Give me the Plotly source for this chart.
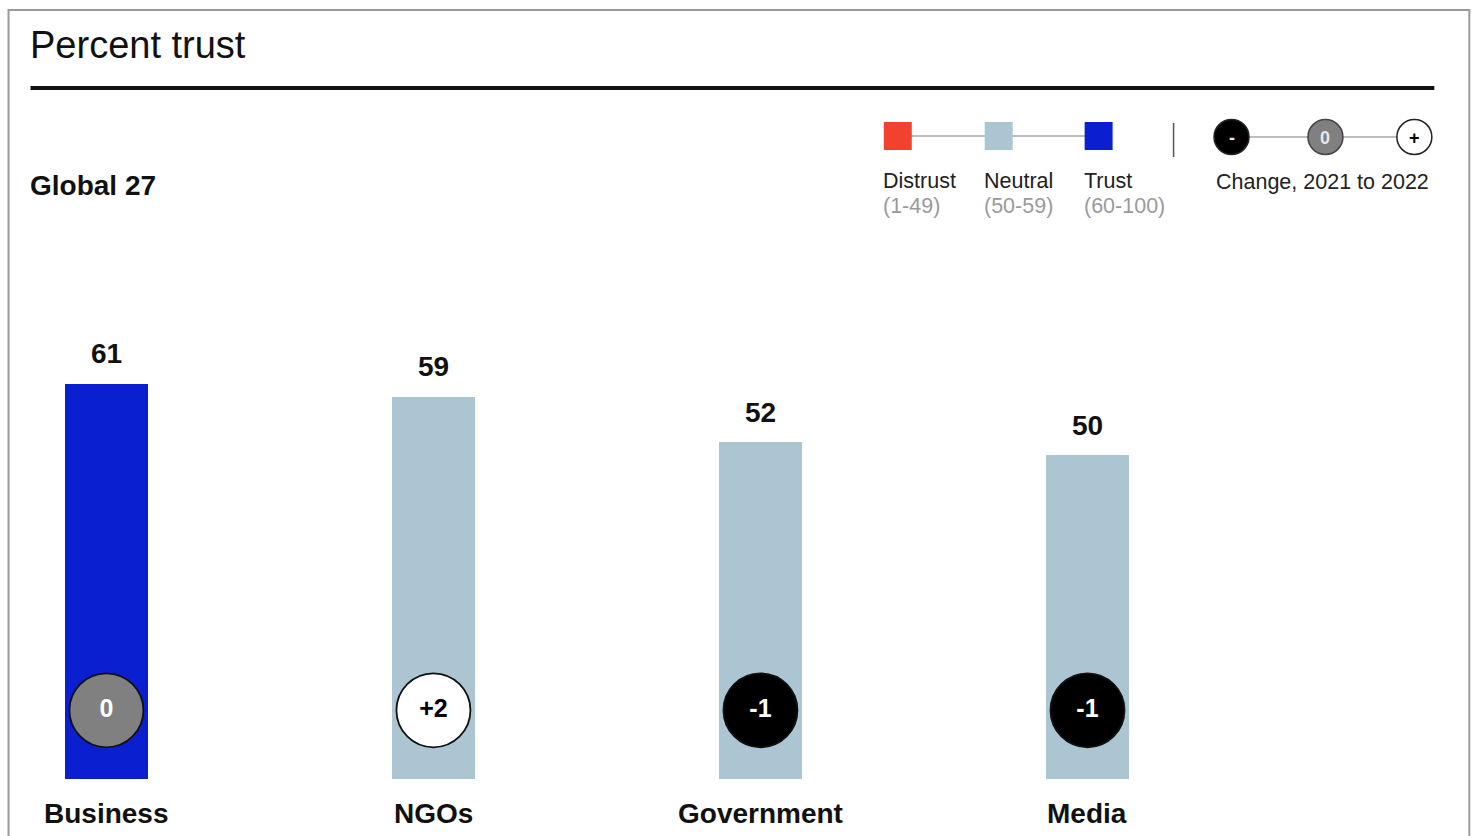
import plotly.graph_objects as go

# ---------------- data ----------------
categories = ["Business", "NGOs", "Government", "Media"]
trust_pct = [61, 59, 52, 50]
change_2021_2022 = [0, 2, -1, -1]

title_text = "Percent trust"
subtitle_text = "Global 27"
legend_labels = ["Distrust", "Neutral", "Trust"]
legend_ranges = ["(1-49)", "(50-59)", "(60-100)"]
change_label = "Change, 2021 to 2022"

# ---------------- styles ----------------
FONT = "Liberation Sans, Arial, Helvetica, sans-serif"
C_DISTRUST = "#f2412f"
C_NEUTRAL = "#abc6d2"
C_TRUST = "#0a1fcf"
C_NEG = "#000000"
C_ZERO = "#808080"
C_POS = "#ffffff"
TXT = "#111111"
GRAY_TXT = "#9a9a9a"

W, H = 1477, 836
L, R, T, B = 40.5, 225.5, 131, 57
PW, PH = W - L - R, H - T - B


def px(p):
    return (p - L) / PW


def py(p):
    return (H - B - p) / PH


def bar_color(v):
    if v >= 60:
        return C_TRUST
    if v >= 50:
        return C_NEUTRAL
    return C_DISTRUST


def chg_fill(c):
    return C_NEG if c < 0 else (C_ZERO if c == 0 else C_POS)


def chg_text(c):
    return f"+{c}" if c > 0 else str(c)


fig = go.Figure()

fig.add_trace(go.Bar(
    x=categories, y=trust_pct, width=0.254,
    marker=dict(color=[bar_color(v) for v in trust_pct], line=dict(width=0)),
    hoverinfo="x+y", showlegend=False,
))

CIRCLE_Y = 10.6
fig.add_trace(go.Scatter(
    x=categories, y=[CIRCLE_Y] * len(categories), mode="markers+text",
    marker=dict(size=74, color=[chg_fill(c) for c in change_2021_2022],
                line=dict(color="#111111", width=1.8), opacity=1),
    text=[f"<b>{chg_text(c)}</b>" for c in change_2021_2022],
    textposition="middle center",
    textfont=dict(family=FONT, size=25,
                  color=["#000000" if c > 0 else "#ffffff" for c in change_2021_2022]),
    hoverinfo="skip", showlegend=False, cliponaxis=False,
))

annotations = []
for cat, v in zip(categories, trust_pct):
    annotations.append(dict(x=cat, y=v, xref="x", yref="y", text=f"<b>{v}</b>",
                            showarrow=False, yanchor="middle", yshift=30,
                            font=dict(family=FONT, size=28, color=TXT)))
    annotations.append(dict(x=cat, y=0, xref="x", yref="y", text=f"<b>{cat}</b>",
                            showarrow=False, yanchor="middle", yshift=-34,
                            font=dict(family=FONT, size=28, color=TXT)))


def ann(xp, yp, text, size, color=TXT, xanchor="left"):
    annotations.append(dict(x=px(xp), y=py(yp), xref="paper", yref="paper", text=text,
                            showarrow=False, xanchor=xanchor, yanchor="middle",
                            font=dict(family=FONT, size=size, color=color)))


ann(27, 45, title_text, 38)
ann(27, 185, f"<b>{subtitle_text}</b>", 28)

shapes = []


def rect(x0, y0, x1, y1, fill, line_color=None, lw=0):
    shapes.append(dict(type="rect", xref="paper", yref="paper",
                       x0=px(x0), x1=px(x1), y0=py(y1), y1=py(y0),
                       fillcolor=fill, line=dict(color=line_color or fill, width=lw)))


def line(x0, y0, x1, y1, color, width):
    shapes.append(dict(type="line", xref="paper", yref="paper",
                       x0=px(x0), x1=px(x1), y0=py(y0), y1=py(y1),
                       line=dict(color=color, width=width)))


def circle(cx, cy, r, fill, line_color, lw):
    shapes.append(dict(type="circle", xref="paper", yref="paper",
                       x0=px(cx - r), x1=px(cx + r), y0=py(cy + r), y1=py(cy - r),
                       fillcolor=fill, line=dict(color=line_color, width=lw)))


# outer frame
shapes.append(dict(type="rect", xref="paper", yref="paper",
                   x0=px(8), x1=px(1470), y0=py(900), y1=py(10),
                   fillcolor="rgba(0,0,0,0)", line=dict(color="#9a9a9a", width=2)))
# title rule
line(30, 88, 1435, 88, "#111111", 4)

# legend: colour scale
sq_x = [884, 985, 1085]
sq_colors = [C_DISTRUST, C_NEUTRAL, C_TRUST]
line(sq_x[0] + 14, 136, sq_x[-1] + 14, 136, "#bdbdbd", 2)
for x0, col, lab, rng in zip(sq_x, sq_colors, legend_labels, legend_ranges):
    rect(x0, 122, x0 + 28, 150, col)
    ann(x0 - 3, 181, lab, 21.5, "#222222")
    ann(x0 - 3, 206, rng, 21.5, GRAY_TXT)

# divider
line(1174, 123, 1174, 157, "#555555", 1.5)

# legend: change circles
cc_x = [1232, 1326, 1415]
cc_vals = [-1, 0, 1]
cc_sym = ["-", "0", "+"]
line(cc_x[0], 137, cc_x[-1], 137, "#bdbdbd", 2)
for cx, c, s in zip(cc_x, cc_vals, cc_sym):
    circle(cx, 137, 17.5, chg_fill(c), "#222222" if c != 0 else "#444444", 1.5)
    ann(cx, 138, f"<b>{s}</b>", 18, "#000000" if c > 0 else "#e8e8e8", xanchor="center")
ann(1214, 182, change_label, 21.5, "#222222")

fig.update_layout(
    width=W, height=H, autosize=False,
    margin=dict(l=L, r=R, t=T, b=B, pad=0),
    paper_bgcolor="white", plot_bgcolor="white",
    xaxis=dict(range=[-0.2, 3.5], showgrid=False, zeroline=False, showticklabels=False,
               showline=False, fixedrange=True),
    yaxis=dict(range=[0, 100], showgrid=False, zeroline=False, showticklabels=False,
               showline=False, fixedrange=True),
    annotations=annotations, shapes=shapes,
    bargap=0, font=dict(family=FONT, color=TXT),
)

fig.write_html("out.html")
